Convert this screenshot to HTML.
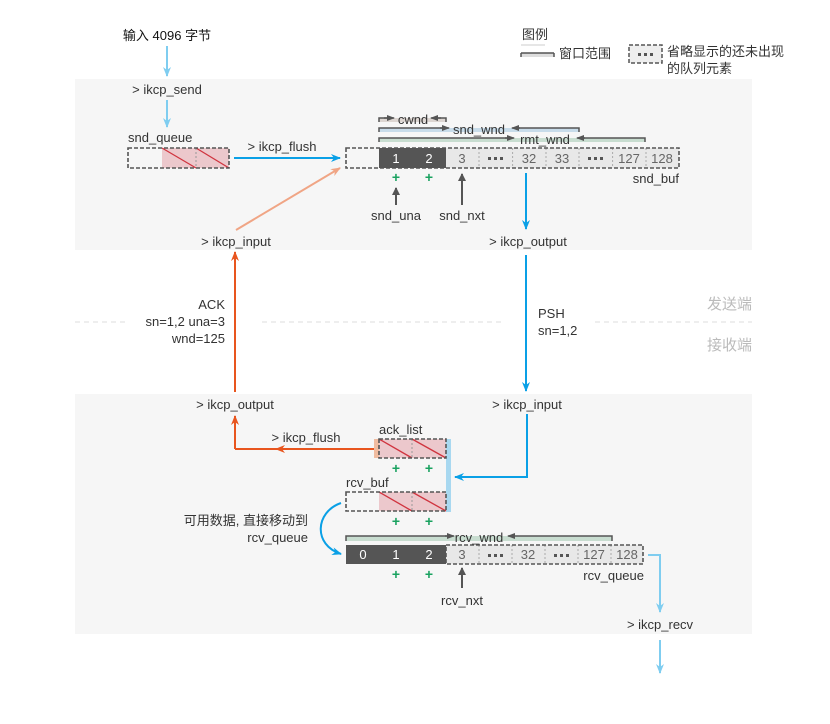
<!DOCTYPE html>
<html><head><meta charset="utf-8"><style>
body{margin:0;background:#fff}
text{font-family:"Liberation Sans","Noto Sans CJK SC",sans-serif;font-size:13px;fill:#333}
.c{text-anchor:middle}.r{text-anchor:end}
.g{fill:#666}
.p{fill:#1aa260;font-weight:bold;font-size:14px}
</style></head><body>
<svg width="830" height="719" viewBox="0 0 830 719" xmlns="http://www.w3.org/2000/svg">
<defs>
<marker id="ab" markerWidth="10" markerHeight="8" refX="9" refY="4" orient="auto" markerUnits="userSpaceOnUse"><path d="M0,0 L10,4 L0,8 L3,4z" fill="#0aa0e6"/></marker>
<marker id="alb" markerWidth="10" markerHeight="8" refX="9" refY="4" orient="auto" markerUnits="userSpaceOnUse"><path d="M0,0 L10,4 L0,8 L3,4z" fill="#7fcdf0"/></marker>
<marker id="ao" markerWidth="10" markerHeight="8" refX="9" refY="4" orient="auto" markerUnits="userSpaceOnUse"><path d="M0,0 L10,4 L0,8 L3,4z" fill="#e8551e"/></marker>
<marker id="alo" markerWidth="10" markerHeight="8" refX="9" refY="4" orient="auto" markerUnits="userSpaceOnUse"><path d="M0,0 L10,4 L0,8 L3,4z" fill="#f0a585"/></marker>
<marker id="ag" markerWidth="8" markerHeight="10" refX="7" refY="5" orient="auto" markerUnits="userSpaceOnUse"><path d="M0,1 L8,5 L0,9z" fill="#555"/></marker>
<marker id="as" markerWidth="8" markerHeight="6" refX="7" refY="3" orient="auto" markerUnits="userSpaceOnUse"><path d="M0,0 L8,3 L0,6z" fill="#555"/></marker>
</defs>
<rect x="75" y="79" width="677" height="171" fill="#f6f6f6"/>
<rect x="75" y="394" width="677" height="240" fill="#f6f6f6"/>
<line x1="75" y1="322" x2="128" y2="322" stroke="#ddd" stroke-dasharray="5,4"/>
<line x1="262" y1="322" x2="505" y2="322" stroke="#ddd" stroke-dasharray="5,4"/>
<line x1="595" y1="322" x2="752" y2="322" stroke="#ddd" stroke-dasharray="5,4"/>
<text x="752" y="309" class="r" style="fill:#bbb;font-size:15px">发送端</text>
<text x="752" y="350" class="r" style="fill:#bbb;font-size:15px">接收端</text>

<text x="522" y="39">图例</text>
<line x1="521" y1="45" x2="545" y2="45" stroke="#ccc"/>
<rect x="521" y="53" width="33" height="4" fill="#ddd"/>
<line x1="521" y1="53" x2="554" y2="53" stroke="#555" stroke-width="1.5"/>
<line x1="521" y1="53" x2="521" y2="57" stroke="#555" stroke-width="1.5"/>
<line x1="554" y1="53" x2="554" y2="57" stroke="#555" stroke-width="1.5"/>
<text x="559" y="58">窗口范围</text>
<rect x="629" y="45" width="33" height="18" fill="#eee" stroke="#555" stroke-width="1.5" stroke-dasharray="4,2"/>
<rect x="638" y="53" width="3" height="3" fill="#555"/><rect x="644" y="53" width="3" height="3" fill="#555"/><rect x="650" y="53" width="3" height="3" fill="#555"/>
<text x="667" y="56">省略显示的还未出现</text>
<text x="667" y="73">的队列元素</text>

<text x="167" y="40" class="c" style="fill:#111">输入 4096 字节</text>
<line x1="167" y1="46" x2="167" y2="76" stroke="#7fcdf0" stroke-width="2" marker-end="url(#alb)"/>
<text x="167" y="94" class="c">&gt; ikcp_send</text>
<line x1="167" y1="100" x2="167" y2="127" stroke="#7fcdf0" stroke-width="2" marker-end="url(#alb)"/>
<text x="128" y="142">snd_queue</text>
<rect x="162" y="148" width="67" height="20" fill="#ecc8cc"/>
<line x1="162" y1="148" x2="196" y2="168" stroke="#d0343f" stroke-width="1.3"/><line x1="196" y1="148" x2="229" y2="168" stroke="#d0343f" stroke-width="1.3"/>
<line x1="196" y1="148" x2="196" y2="168" stroke="#999" stroke-dasharray="2,2"/>
<rect x="128" y="148" width="101" height="20" fill="none" stroke="#555" stroke-width="1.6" stroke-dasharray="4,2"/>
<text x="282" y="151" class="c">&gt; ikcp_flush</text>
<line x1="234" y1="158" x2="340" y2="158" stroke="#0aa0e6" stroke-width="2" marker-end="url(#ab)"/>
<line x1="236" y1="230" x2="340" y2="168" stroke="#f0a585" stroke-width="2" marker-end="url(#alo)"/>
<text x="236" y="246" class="c">&gt; ikcp_input</text>

<rect x="379" y="118" width="67" height="4" fill="#ddd6d2"/>
<path d="M379,122 V118 H392 M433,118 H446 V122" fill="none" stroke="#555" stroke-width="1.5"/>
<line x1="384" y1="118" x2="394" y2="118" stroke="#555" stroke-width="1.5" marker-end="url(#as)"/>
<line x1="441" y1="118" x2="431" y2="118" stroke="#555" stroke-width="1.5" marker-end="url(#as)"/>
<text x="413" y="124" class="c">cwnd</text>
<rect x="379" y="128" width="200" height="4" fill="#c8dcea"/>
<path d="M379,132 V128 H446 M515,128 H579 V132" fill="none" stroke="#555" stroke-width="1.5"/>
<line x1="440" y1="128" x2="449" y2="128" stroke="#555" stroke-width="1.5" marker-end="url(#as)"/>
<line x1="520" y1="128" x2="512" y2="128" stroke="#555" stroke-width="1.5" marker-end="url(#as)"/>
<text x="479" y="134" class="c">snd_wnd</text>
<rect x="379" y="138" width="266" height="4" fill="#c8ddd0"/>
<path d="M379,142 V138 H512 M580,138 H645 V142" fill="none" stroke="#555" stroke-width="1.5"/>
<line x1="505" y1="138" x2="514" y2="138" stroke="#555" stroke-width="1.5" marker-end="url(#as)"/>
<line x1="585" y1="138" x2="577" y2="138" stroke="#555" stroke-width="1.5" marker-end="url(#as)"/>
<text x="545" y="144" class="c">rmt_wnd</text>

<rect x="379" y="148" width="67" height="20" fill="#555"/>
<rect x="446" y="148" width="233" height="20" fill="#e8e8e8"/>
<g stroke="#aaa" stroke-dasharray="2,2">
<line x1="479" y1="148" x2="479" y2="168"/><line x1="512.6" y1="148" x2="512.6" y2="168"/><line x1="546" y1="148" x2="546" y2="168"/><line x1="579" y1="148" x2="579" y2="168"/><line x1="612.6" y1="148" x2="612.6" y2="168"/><line x1="646" y1="148" x2="646" y2="168"/></g>
<rect x="346" y="148" width="333" height="20" fill="none" stroke="#555" stroke-width="1.6" stroke-dasharray="4,2"/>
<text x="396" y="163" class="c" style="fill:#fff">1</text><text x="429" y="163" class="c" style="fill:#fff">2</text>
<text x="462" y="163" class="c g">3</text>
<g fill="#555"><rect x="488" y="157" width="3" height="3"/><rect x="494" y="157" width="3" height="3"/><rect x="500" y="157" width="3" height="3"/>
<rect x="588" y="157" width="3" height="3"/><rect x="594" y="157" width="3" height="3"/><rect x="600" y="157" width="3" height="3"/></g>
<text x="529" y="163" class="c g">32</text><text x="562" y="163" class="c g">33</text>
<text x="629" y="163" class="c g">127</text><text x="662" y="163" class="c g">128</text>
<text x="679" y="183" class="r">snd_buf</text>
<text x="396" y="182" class="c p">+</text><text x="429" y="182" class="c p">+</text>
<line x1="396" y1="205" x2="396" y2="188" stroke="#555" stroke-width="2" marker-end="url(#ag)"/>
<line x1="462" y1="205" x2="462" y2="174" stroke="#555" stroke-width="2" marker-end="url(#ag)"/>
<text x="396" y="220" class="c">snd_una</text><text x="462" y="220" class="c">snd_nxt</text>
<line x1="526" y1="173" x2="526" y2="229" stroke="#0aa0e6" stroke-width="2" marker-end="url(#ab)"/>
<text x="528" y="246" class="c">&gt; ikcp_output</text>

<line x1="526" y1="255" x2="526" y2="391" stroke="#0aa0e6" stroke-width="2" marker-end="url(#ab)"/>
<text x="538" y="318">PSH</text><text x="538" y="335">sn=1,2</text>
<line x1="235" y1="392" x2="235" y2="252" stroke="#e8551e" stroke-width="2" marker-end="url(#ao)"/>
<text x="225" y="309" class="r">ACK</text><text x="225" y="326" class="r">sn=1,2 una=3</text><text x="225" y="343" class="r">wnd=125</text>

<text x="235" y="409" class="c">&gt; ikcp_output</text>
<text x="527" y="409" class="c">&gt; ikcp_input</text>
<polyline points="527,414 527,477 455,477" fill="none" stroke="#0aa0e6" stroke-width="2" marker-end="url(#ab)"/>
<polyline points="374,449 276,449" fill="none" stroke="#e8551e" stroke-width="2" marker-end="url(#ao)"/>
<line x1="235" y1="449" x2="235" y2="416" stroke="#e8551e" stroke-width="2" marker-end="url(#ao)"/>
<line x1="235" y1="449" x2="276" y2="449" stroke="#e8551e" stroke-width="2"/>
<text x="306" y="442" class="c">&gt; ikcp_flush</text>
<text x="379" y="434">ack_list</text>
<rect x="374" y="439" width="5" height="19" fill="#f0bca0"/>
<rect x="446" y="439" width="5" height="73" fill="#a8d8f0"/>
<rect x="379" y="439" width="67" height="19" fill="#ecc8cc"/>
<line x1="379" y1="439" x2="412" y2="458" stroke="#d0343f" stroke-width="1.3"/><line x1="412" y1="439" x2="446" y2="458" stroke="#d0343f" stroke-width="1.3"/>
<line x1="412" y1="439" x2="412" y2="458" stroke="#999" stroke-dasharray="2,2"/>
<rect x="379" y="439" width="67" height="19" fill="none" stroke="#555" stroke-width="1.6" stroke-dasharray="4,2"/>
<text x="396" y="473" class="c p">+</text><text x="429" y="473" class="c p">+</text>
<text x="346" y="487">rcv_buf</text>
<rect x="379" y="492" width="67" height="19" fill="#ecc8cc"/>
<line x1="379" y1="492" x2="412" y2="511" stroke="#d0343f" stroke-width="1.3"/><line x1="412" y1="492" x2="446" y2="511" stroke="#d0343f" stroke-width="1.3"/>
<line x1="412" y1="492" x2="412" y2="511" stroke="#999" stroke-dasharray="2,2"/>
<rect x="346" y="492" width="100" height="19" fill="none" stroke="#555" stroke-width="1.6" stroke-dasharray="4,2"/>
<text x="396" y="526" class="c p">+</text><text x="429" y="526" class="c p">+</text>
<path d="M341,503 C315,512 313,545 341,554" fill="none" stroke="#0aa0e6" stroke-width="2" marker-end="url(#ab)"/>
<text x="308" y="525" class="r">可用数据, 直接移动到</text>
<text x="308" y="542" class="r">rcv_queue</text>
<rect x="346" y="536" width="266" height="5" fill="#c8ddd0"/>
<path d="M346,541 V536 H452 M510,536 H612 V541" fill="none" stroke="#555" stroke-width="1.5"/>
<line x1="445" y1="536" x2="454" y2="536" stroke="#555" stroke-width="1.5" marker-end="url(#as)"/>
<line x1="515" y1="536" x2="508" y2="536" stroke="#555" stroke-width="1.5" marker-end="url(#as)"/>
<text x="479" y="542" class="c">rcv_wnd</text>
<rect x="346" y="545" width="100" height="19" fill="#555"/>
<rect x="446" y="545" width="197" height="19" fill="#e8e8e8"/>
<g stroke="#aaa" stroke-dasharray="2,2">
<line x1="479" y1="545" x2="479" y2="564"/><line x1="512" y1="545" x2="512" y2="564"/><line x1="545" y1="545" x2="545" y2="564"/><line x1="578" y1="545" x2="578" y2="564"/><line x1="611" y1="545" x2="611" y2="564"/></g>
<rect x="446" y="545" width="197" height="19" fill="none" stroke="#555" stroke-width="1.6" stroke-dasharray="4,2"/>
<text x="363" y="559" class="c" style="fill:#fff">0</text><text x="396" y="559" class="c" style="fill:#fff">1</text><text x="429" y="559" class="c" style="fill:#fff">2</text>
<text x="462" y="559" class="c g">3</text>
<g fill="#555"><rect x="488" y="554" width="3" height="3"/><rect x="494" y="554" width="3" height="3"/><rect x="500" y="554" width="3" height="3"/>
<rect x="554" y="554" width="3" height="3"/><rect x="560" y="554" width="3" height="3"/><rect x="566" y="554" width="3" height="3"/></g>
<text x="528" y="559" class="c g">32</text><text x="594" y="559" class="c g">127</text><text x="627" y="559" class="c g">128</text>
<text x="644" y="580" class="r">rcv_queue</text>
<text x="396" y="579" class="c p">+</text><text x="429" y="579" class="c p">+</text>
<line x1="462" y1="588" x2="462" y2="568" stroke="#555" stroke-width="2" marker-end="url(#ag)"/>
<text x="462" y="605" class="c">rcv_nxt</text>
<polyline points="648,555 660,555 660,612" fill="none" stroke="#7fcdf0" stroke-width="2" marker-end="url(#alb)"/>
<text x="660" y="629" class="c">&gt; ikcp_recv</text>
<line x1="660" y1="640" x2="660" y2="673" stroke="#7fcdf0" stroke-width="2" marker-end="url(#alb)"/>
</svg>
</body></html>
